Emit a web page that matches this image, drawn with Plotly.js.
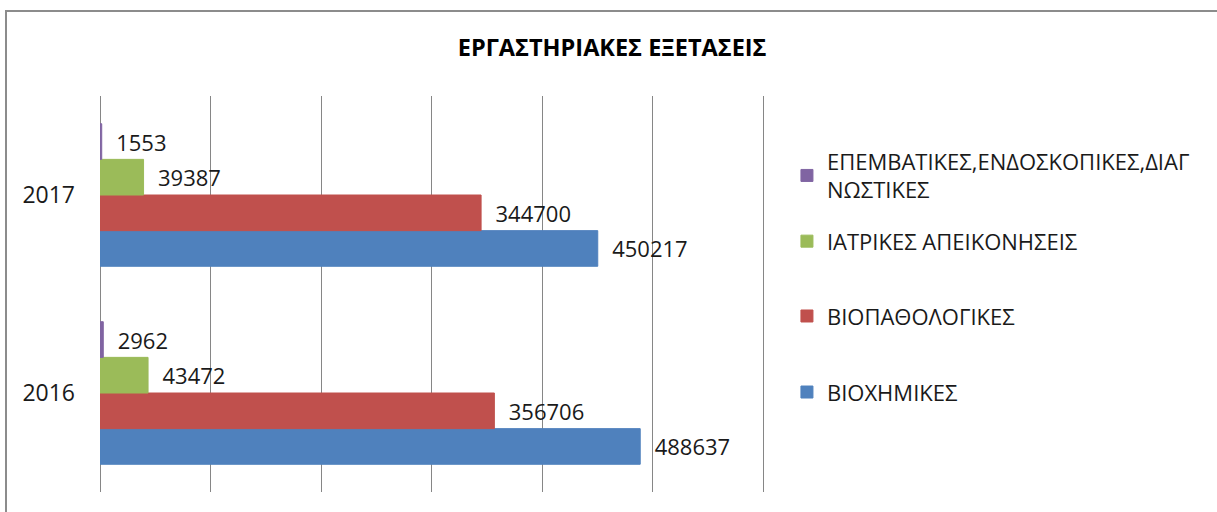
<!DOCTYPE html>
<html>
<head>
<meta charset="utf-8">
<script src="https://cdn.plot.ly/plotly-3.0.1.min.js"></script>
<style>
html,body{margin:0;padding:0;background:#fff;}
#wrap{position:absolute;left:0;top:0;width:1217px;height:512px;}
#frame{position:absolute;left:5px;top:10px;width:1212px;height:502px;border-top:2px solid #8c8c8c;border-left:2px solid #8c8c8c;pointer-events:none;}
#chart{position:absolute;left:0;top:0;width:1217px;height:512px;}
</style>
</head>
<body>
<div id="wrap"><div id="chart"></div><div id="frame"></div></div>
<script>
const years = ['2016', '2017'];
const seriesNames = ['ΒΙΟΧΗΜΙΚΕΣ', 'ΒΙΟΠΑΘΟΛΟΓΙΚΕΣ', 'ΙΑΤΡΙΚΕΣ ΑΠΕΙΚΟΝΗΣΕΙΣ', 'ΕΠΕΜΒΑΤΙΚΕΣ,ΕΝΔΟΣΚΟΠΙΚΕΣ,ΔΙΑΓ<br>ΝΩΣΤΙΚΕΣ'];
const biochemical = [488637, 450217];
const biopathological = [356706, 344700];
const imaging = [43472, 39387];
const interventional = [2962, 1553];
const colors = ['#4F81BD', '#C0504D', '#9BBB59', '#8064A2'];
const titleText = 'ΕΡΓΑΣΤΗΡΙΑΚΕΣ ΕΞΕΤΑΣΕΙΣ';

const allValues = [biochemical, biopathological, imaging, interventional];
const font = 'Open Sans, sans-serif';
const pad = '\u00a0\u00a0';
const legendIds = ['legend4', 'legend3', 'legend2', 'legend'];
const traces = allValues.map((vals, i) => ({
  type: 'bar',
  orientation: 'h',
  name: seriesNames[i],
  y: years,
  x: vals,
  legend: legendIds[i],
  marker: {color: colors[i], line: {width: 1, color: colors[i]}},
  text: vals.map(v => pad + String(v)),
  textposition: 'outside',
  cliponaxis: false,
  textfont: {family: font, size: 22, color: '#1a1a1a'},
  hoverinfo: 'x+name'
}));

function legendAt(yPos) {
  return {x: 1.033, xanchor: 'left', y: yPos, yanchor: 'top',
          font: {family: font, size: 22, color: '#1a1a1a'},
          bgcolor: 'rgba(0,0,0,0)', itemclick: false, itemdoubleclick: false};
}

const layout = {
  width: 1217, height: 512,
  margin: {l: 100, r: 452, t: 96, b: 20},
  paper_bgcolor: '#ffffff', plot_bgcolor: '#ffffff',
  barmode: 'group',
  bargap: 0.28, bargroupgap: 0,
  title: {text: '<b>' + titleText + '</b>', x: 0.503, xanchor: 'center', y: 0.906, yanchor: 'middle',
          font: {family: font, size: 23.5, color: '#000'}},
  xaxis: {range: [0, 601500], tick0: 0, dtick: 100000, showgrid: true, gridcolor: '#868686', gridwidth: 1,
          showticklabels: false, zeroline: true, zerolinecolor: '#868686', zerolinewidth: 1,
          showline: false, ticks: '', fixedrange: true},
  yaxis: {type: 'category', categoryorder: 'array', categoryarray: years,
          showgrid: false, zeroline: false, showline: false, ticks: '', ticklen: 0,
          tickfont: {family: font, size: 23, color: '#1a1a1a'}, ticklabelstandoff: 24, fixedrange: true},
  showlegend: true,
  legend: legendAt(0.888),
  legend2: legendAt(0.686),
  legend3: legendAt(0.497),
  legend4: legendAt(0.305),
  font: {family: font}
};

Plotly.newPlot('chart', traces, layout, {displayModeBar: false, staticPlot: true});
</script>
</body>
</html>
